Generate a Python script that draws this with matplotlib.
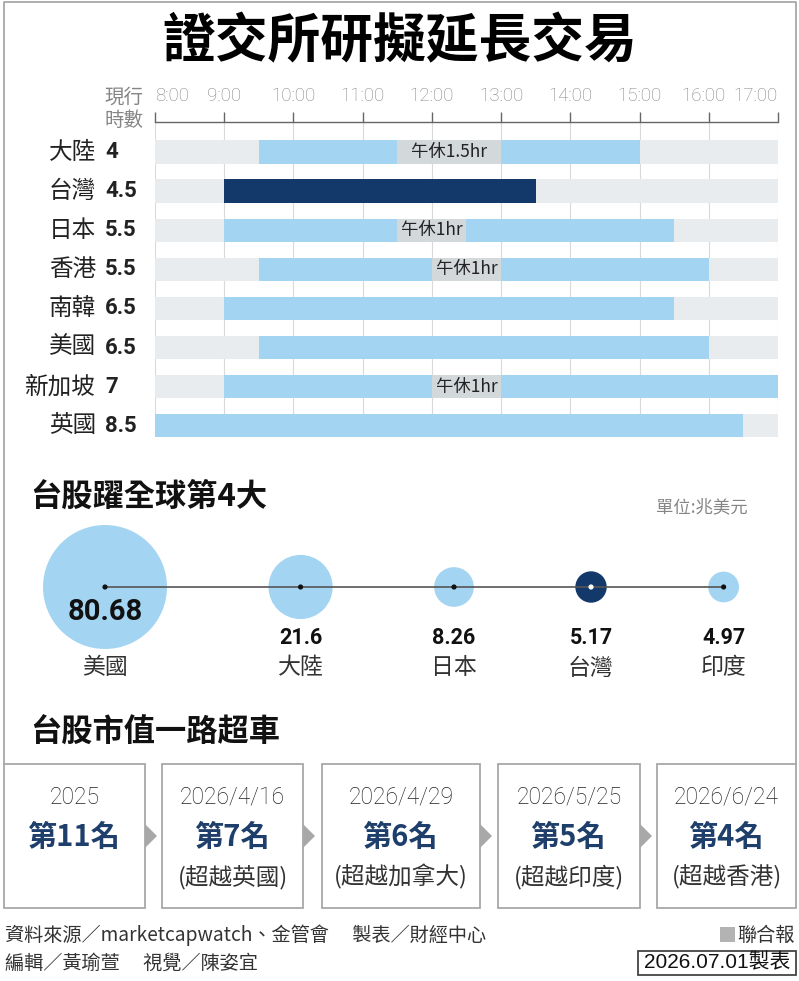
import numpy as np
import matplotlib
matplotlib.use('Agg')
import matplotlib.pyplot as plt
import matplotlib.transforms as mtrans
from matplotlib.patches import Rectangle, Circle, Polygon
from matplotlib.lines import Line2D

plt.rcParams['font.family'] = ['Noto Sans CJK TC', 'DejaVu Sans']

W, H = 799, 981

def fx(px):
    return px / W

def fy(py):
    return 1 - py / H

# ---------------- data ----------------
title = '證交所研擬延長交易'

countries = ['大陸', '台灣', '日本', '香港', '南韓', '美國', '新加坡', '英國']
hours = ['4', '4.5', '5.5', '5.5', '6.5', '6.5', '7', '8.5']
open_t = [9.5, 9.0, 9.0, 9.5, 9.0, 9.5, 9.0, 8.0]
close_t = [15.0, 13.5, 15.5, 16.0, 15.5, 16.0, 17.0, 16.5]
lunch_start = [11.5, None, 11.5, 12.0, None, None, 12.0, None]
lunch_end = [13.0, None, 12.5, 13.0, None, None, 13.0, None]
lunch_label = ['午休1.5hr', '', '午休1hr', '午休1hr', '', '', '午休1hr', '']
tick_hours = list(range(8, 18))
tick_labels = ['%d:00' % h for h in tick_hours]

cap_names = ['美國', '大陸', '日本', '台灣', '印度']
cap_values = [80.68, 21.6, 8.26, 5.17, 4.97]
cap_labels = ['80.68', '21.6', '8.26', '5.17', '4.97']

dates = ['2025', '2026/4/16', '2026/4/29', '2026/5/25', '2026/6/24']
ranks = ['第11名', '第7名', '第6名', '第5名', '第4名']
passed = ['', '超越英國', '超越加拿大', '超越印度', '超越香港']

source = '資料來源／marketcapwatch、金管會　 製表／財經中心'
credits = '編輯／黃瑜萱　 視覺／陳姿宜'

# ---------------- colours ----------------
light_blue = '#a3d5f3'
navy = '#13386a'
band_gray = '#e9ecef'
lunch_gray = '#d3d8db'
frame_gray = '#a8a8a8'
text_gray = '#858585'
dark = '#222222'
num_font = ['Roboto', 'DejaVu Sans']

fig = plt.figure(figsize=(W / 100, H / 100), dpi=100)
fig.patch.set_facecolor('white')

# outer frame (top part)
fig.add_artist(Line2D([fx(4), fx(4), fx(796), fx(796)],
                      [fy(764), fy(1.5), fy(1.5), fy(764)],
                      color=frame_gray, lw=1.3))

fig.text(0.5, fy(42), title, ha='center', va='center', size=38,
         weight='heavy', color='black')

# ---------------- trading hours chart ----------------
ax = fig.add_axes([fx(155), fy(437.5), (778 - 155) / W, (437.5 - 122) / H])
rows = np.arange(len(countries))
ax.set_xlim(8, 17)
ax.set_ylim(len(countries) - 1 + 0.3, -0.77)

ax.barh(rows, 17 - 8, left=8, height=0.6, color=band_gray, zorder=1)
for i in rows:
    col = navy if countries[i] == '台灣' else light_blue
    ax.barh(i, close_t[i] - open_t[i], left=open_t[i], height=0.6,
            color=col, zorder=2)
    if lunch_start[i] is not None:
        ax.barh(i, lunch_end[i] - lunch_start[i], left=lunch_start[i],
                height=0.6, color=lunch_gray, zorder=3)
        ax.text((lunch_start[i] + lunch_end[i]) / 2, i, lunch_label[i],
                ha='center', va='center', size=12.5, color=dark, zorder=4)

ax.grid(axis='x', color='#d9d9d9', lw=0.8)
ax.set_axisbelow(True)
for s in ['left', 'right', 'bottom']:
    ax.spines[s].set_visible(False)
ax.spines['top'].set_color('#666666')
ax.spines['top'].set_linewidth(1.0)
ax.xaxis.tick_top()
ax.set_xticks(tick_hours, labels=tick_labels, fontfamily=num_font,
              fontweight='light')
ax.tick_params(axis='x', direction='out', length=7, width=1, color='#666666',
               pad=5, labelsize=13.5, labelcolor=text_gray)
ax.set_yticks([])
xtl = ax.get_xticklabels()
xtl[0].set_horizontalalignment('left')
xtl[-1].set_horizontalalignment('right')
# nudge 16:00 left a little, as in the source layout
xtl[-2].set_transform(xtl[-2].get_transform() +
                      mtrans.ScaledTranslation(-5 / 100, 0, fig.dpi_scale_trans))

trans = mtrans.blended_transform_factory(fig.transFigure, ax.transData)
for i in rows:
    ax.text(fx(96), i, countries[i], transform=trans, ha='right',
            va='center', size=17, color=dark)
    ax.text(fx(105), i, hours[i], transform=trans, ha='left', va='center',
            size=16, weight='bold', family=num_font, color=dark)

fig.text(fx(104), fy(97), '現行', ha='left', va='center', size=14,
         color=text_gray)
fig.text(fx(104), fy(120), '時數', ha='left', va='center', size=14,
         color=text_gray)

# ---------------- market cap bubbles ----------------
fig.text(fx(30), fy(497), '台股躍全球第4大', ha='left', va='center',
         size=22.5, weight='bold', color='#111111')
fig.text(fx(748), fy(507), '單位:兆美元', ha='right', va='center',
         size=12.5, color=text_gray)

ax2 = fig.add_axes([0, fy(705), 1, (705 - 515) / H])
ax2.set_xlim(0, W)
ax2.set_ylim(705, 515)
ax2.axis('off')

r_max = 62
gap = 101.5
cy = 587
radii = [r_max * np.sqrt(v / max(cap_values)) for v in cap_values]
xs = []
for i, r in enumerate(radii):
    if i == 0:
        xs.append(43 + r)
    else:
        xs.append(xs[-1] + radii[i - 1] + gap + r)

for i in range(len(cap_values)):
    col = navy if cap_names[i] == '台灣' else light_blue
    ax2.add_patch(Circle((xs[i], cy), radii[i], color=col, zorder=1, lw=0))
ax2.plot([xs[0], xs[-1]], [cy, cy], color='#555555', lw=1.2, zorder=2)
dot_cols = ['white' if n == '台灣' else '#111111' for n in cap_names]
ax2.scatter(xs, [cy] * len(xs), s=14, c=dot_cols, zorder=3, lw=0)

for i in range(len(cap_values)):
    if radii[i] > 40:
        ax2.text(xs[i], cy + 25, cap_labels[i], ha='center', va='center',
                 size=21, weight='bold', family=num_font, color='#111111')
    else:
        ax2.text(xs[i], cy + 51, cap_labels[i], ha='center', va='center',
                 size=15.5, weight='bold', family=num_font, color='#111111')
    ax2.text(xs[i], 668, cap_names[i], ha='center', va='center', size=16.5,
             color='#333333')

# ---------------- ranking boxes ----------------
fig.text(fx(30), fy(733), '台股市值一路超車', ha='left', va='center',
         size=22.5, weight='bold', color='#111111')

box_left = [4, 162, 322, 498, 657]
box_right = [145, 303, 480, 640, 796]
box_top, box_bot = 764, 908
for i in range(len(dates)):
    l, r = box_left[i], box_right[i]
    fig.add_artist(Rectangle((fx(l), fy(box_bot)), (r - l) / W,
                             (box_bot - box_top) / H,
                             transform=fig.transFigure, facecolor='white',
                             edgecolor=frame_gray, lw=1.3))
    cx = fx((l + r) / 2)
    fig.text(cx, fy(797), dates[i], ha='center', va='center', size=16.5,
             family=num_font, weight='light', color='#222222')
    fig.text(cx, fy(837), ranks[i], ha='center', va='center', size=21,
             weight='bold', color='#1e3f6b')
    if passed[i]:
        fig.text(cx, fy(877), '(' + passed[i] + ')', ha='center',
                 va='center', size=17, color='#333333')
    if i < len(dates) - 1:
        fig.add_artist(Polygon([[fx(r), fy(824)], [fx(r + 12), fy(836)],
                                [fx(r), fy(848)]], closed=True,
                               transform=fig.transFigure,
                               facecolor=frame_gray, edgecolor='none'))

# ---------------- footer ----------------
fig.text(fx(5), fy(935), source, ha='left', va='center', size=13.8,
         color='#333333')
fig.text(fx(5), fy(963), credits, ha='left', va='center', size=13.8,
         color='#333333')
fig.add_artist(Rectangle((fx(720), fy(942)), 15 / W, 15 / H,
                         transform=fig.transFigure, facecolor='#b3b3b3',
                         edgecolor='none'))
fig.text(fx(795), fy(935), '聯合報', ha='right', va='center', size=13.8,
         color='#333333')
fig.add_artist(Rectangle((fx(638), fy(975)), (796 - 638) / W, 24 / H,
                         transform=fig.transFigure, facecolor='white',
                         edgecolor='#444444', lw=1.3))
fig.text(fx(717), fy(963), '2026.07.01製表', ha='center', va='center',
         size=15, family=['Liberation Sans', 'Noto Sans CJK TC'],
         color='#111111')

fig.savefig('out.png', dpi=100)
